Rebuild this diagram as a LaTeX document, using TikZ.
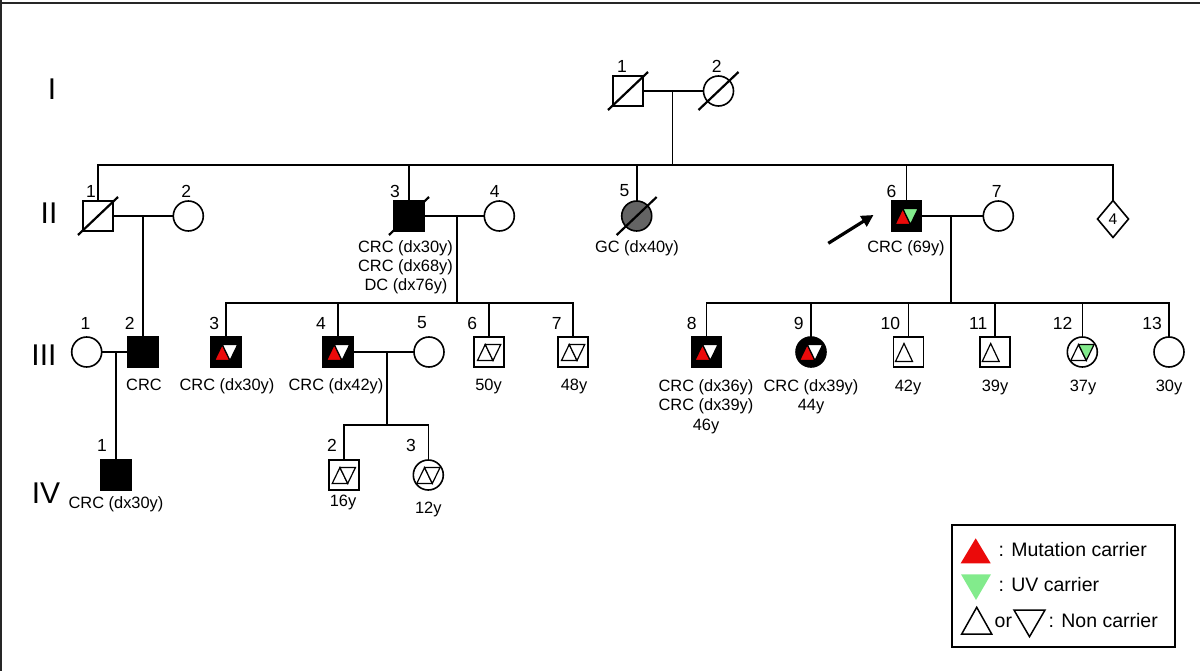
\documentclass[tikz,border=0pt]{standalone}
\usepackage{fontspec}
\setmainfont{Liberation Sans}
\usetikzlibrary{shapes.geometric,arrows.meta}
\definecolor{mutred}{RGB}{235,10,10}
\definecolor{uvgreen}{RGB}{130,235,140}
\definecolor{dgray}{RGB}{100,100,100}
\newcommand\pairtri[3]{%
  \begin{scope}[shift={(#1.center)}]
    \filldraw[fill=#2,draw=black,line width=1.2pt] (-11.5,8.5)--(4,8.5)--(-3.75,-7.5)--cycle;
    \filldraw[fill=#3,draw=black,line width=1.2pt] (-3.75,-7.5)--(11.75,-7.5)--(4,8.5)--cycle;
  \end{scope}}
\newcommand\uptri[1]{%
  \begin{scope}[shift={(#1.center)}]
    \draw[line width=1.2pt] (-13,9.5)--(4,9.5)--(-4.5,-8.5)--cycle;
  \end{scope}}
\newcommand\dead[1]{%
  \begin{scope}[shift={(#1.center)}]
    \draw[line width=2.2pt] (-20,19)--(20,-19);
  \end{scope}}
\begin{document}
\begin{tikzpicture}[x=1pt,y=-1pt,
  lw/.style={line width=1.6pt},
  sq/.style={draw,lw,rectangle,minimum size=30pt,inner sep=0pt,outer sep=0pt,fill=white},
  ci/.style={draw,lw,circle,minimum size=30pt,inner sep=0pt,outer sep=0pt,fill=white},
  aff/.style={fill=black},
  con/.style={lw},
  num/.style={font=\fontsize{17.5}{20}\selectfont,inner sep=0pt},
  lbl/.style={font=\fontsize{16.4}{19}\selectfont,inner sep=0pt,anchor=base},
  gen/.style={font=\fontsize{30}{34}\selectfont,inner sep=0pt},
  leg/.style={font=\fontsize{19.5}{22}\selectfont,inner sep=0pt,anchor=base west},
]
\useasboundingbox (0,0) rectangle (1200,671);
% frame edges
\draw[line width=2.4pt,black!85] (0,3.2) -- (1200,3.2);
\draw[line width=2.4pt,black!85] (1.2,0) -- (1.2,671);

% generation labels
\node[gen] (gI) at (52,89.5) {I};
\node[gen] (gII) at (49,213) {II};
\node[gen] (gIII) at (44,355) {III};
\node[gen] (gIV) at (46,493) {IV};

% coordinates
\coordinate (mI) at (672.5,91);
\coordinate (sII) at (672.5,165);
\coordinate (mII1) at (142.7,216);
\coordinate (mII3) at (456.7,216);
\coordinate (sIIIa) at (456.7,303);
\coordinate (mII6) at (950.7,216);
\coordinate (sIIIb) at (950.7,303);
\coordinate (mIII1) at (116,352);
\coordinate (mIII4) at (386.7,352);
\coordinate (sIV) at (386.7,425);

% Generation I
\node[sq] (I1) at (628,91) {};
\node[ci] (I2) at (718.5,91) {};
% Generation II
\node[sq] (II1) at (98,216) {};
\node[ci] (II2) at (188.3,216) {};
\node[sq,aff] (II3) at (409,216) {};
\node[ci] (II4) at (499.3,216) {};
\node[ci,fill=dgray] (II5) at (636.7,216) {};
\node[sq,aff] (II6) at (906.5,216) {};
\node[ci] (II7) at (998.3,216) {};
\node[draw,lw,diamond,minimum width=31pt,minimum height=37pt,inner sep=0pt,outer sep=0pt,font=\fontsize{15.5}{18}\selectfont] (II8) at (1113,219) {4};
% Generation III
\node[ci] (III1) at (86.7,352) {};
\node[sq,aff] (III2) at (142.7,352) {};
\node[sq,aff] (III3) at (226,352) {};
\node[sq,aff] (III4) at (338,352) {};
\node[ci] (III5) at (429,352) {};
\node[sq] (III6) at (489,352) {};
\node[sq] (III7) at (573,352) {};
\node[sq,aff] (III8) at (706.3,352) {};
\node[ci,aff] (III9) at (811,352) {};
\node[sq] (III10) at (908.5,352) {};
\node[sq] (III11) at (995.2,352) {};
\node[ci] (III12) at (1082.3,352) {};
\node[ci] (III13) at (1169,352) {};
% Generation IV
\node[sq,aff] (IV1) at (116,475) {};
\node[sq] (IV2) at (343.7,475) {};
\node[ci] (IV3) at (428.3,475) {};

% deceased
\dead{I1}\dead{I2}\dead{II1}\dead{II3}\dead{II5}

% carrier triangles
\pairtri{II6}{mutred}{uvgreen}
\pairtri{III3}{mutred}{white}
\pairtri{III4}{mutred}{white}
\pairtri{III6}{white}{white}
\pairtri{III7}{white}{white}
\pairtri{III8}{mutred}{white}
\pairtri{III9}{mutred}{white}
\pairtri{III12}{white}{uvgreen}
\pairtri{IV2}{white}{white}
\pairtri{IV3}{white}{white}
\uptri{III10}
\uptri{III11}

% connectors
\draw[con] (I1.east) -- (I2.west);
\draw[con] (mI) -- (sII);
\draw[con] (II1.north) |- (sII) -| (II8.north);
\foreach \n in {II3,II5,II6} \draw[con] (\n.north) -- (\n.north |- sII);
\draw[con] (II1.east) -- (II2.west);
\draw[con] (mII1) -- (III2.north);
\draw[con] (II3.east) -- (II4.west);
\draw[con] (mII3) -- (sIIIa);
\draw[con] (III3.north) |- (sIIIa) -| (III7.north);
\foreach \n in {III4,III6} \draw[con] (\n.north) -- (\n.north |- sIIIa);
\draw[con] (II6.east) -- (II7.west);
\draw[con] (mII6) -- (sIIIb);
\draw[con] (III8.north) |- (sIIIb) -| (III13.north);
\foreach \n in {III9,III10,III11,III12} \draw[con] (\n.north) -- (\n.north |- sIIIb);
\draw[con] (III1.east) -- (III2.west);
\draw[con] (mIII1) -- (IV1.north);
\draw[con] (III4.east) -- (III5.west);
\draw[con] (mIII4) -- (sIV);
\draw[con] (IV2.north) |- (sIV) -| (IV3.north);

% proband arrow
\coordinate (arrS) at (828.3,243.3);
\coordinate (arrE) at (873.5,215);
\draw[line width=3.2pt,-{Triangle[length=12pt,width=12pt]}] (arrS) -- (arrE);

% individual numbers
\node[num] (nI1) at (622,66) {1};
\node[num] (nI2) at (716.7,66) {2};
\node[num] (nII1) at (91,191) {1};
\node[num] (nII2) at (186.3,191) {2};
\node[num] (nII3) at (395,191) {3};
\node[num] (nII4) at (494.7,191) {4};
\node[num] (nII5) at (624.5,191) {5};
\node[num] (nII6) at (891.5,191) {6};
\node[num] (nII7) at (996.7,191) {7};
\node[num] (nIII1) at (85.5,323) {1};
\node[num] (nIII2) at (129.7,323) {2};
\node[num] (nIII3) at (214.3,323) {3};
\node[num] (nIII4) at (321,323) {4};
\node[num] (nIII5) at (422,323) {5};
\node[num] (nIII6) at (472.3,323) {6};
\node[num] (nIII7) at (556.7,323) {7};
\node[num] (nIII8) at (691.7,323) {8};
\node[num] (nIII9) at (798.7,323) {9};
\node[num] (nIII10) at (890.3,323) {10};
\node[num] (nIII11) at (978.3,323) {11};
\node[num] (nIII12) at (1062.7,323) {12};
\node[num] (nIII13) at (1152,323) {13};
\node[num] (nIV1) at (102,445) {1};
\node[num] (nIV2) at (332,445) {2};
\node[num] (nIV3) at (411,445) {3};

% phenotype / age labels
\node[lbl] (tII3a) at (405.5,252.5) {CRC (dx30y)};
\node[lbl] (tII3b) at (405.5,271.5) {CRC (dx68y)};
\node[lbl] (tII3c) at (406,290.5) {DC (dx76y)};
\node[lbl] (tII5) at (637,252.5) {GC (dx40y)};
\node[lbl] (tII6) at (906,252.5) {CRC (69y)};
\node[lbl] (tIII2) at (144,390) {CRC};
\node[lbl] (tIII3) at (227,390) {CRC (dx30y)};
\node[lbl] (tIII4) at (336,390) {CRC (dx42y)};
\node[lbl] (tIII6) at (488.5,390) {50y};
\node[lbl] (tIII7) at (574,390) {48y};
\node[lbl] (tIII8a) at (706,391) {CRC (dx36y)};
\node[lbl] (tIII8b) at (706,410.5) {CRC (dx39y)};
\node[lbl] (tIII8c) at (706,430) {46y};
\node[lbl] (tIII9a) at (811,391) {CRC (dx39y)};
\node[lbl] (tIII9b) at (811,410.5) {44y};
\node[lbl] (tIII10) at (908,391) {42y};
\node[lbl] (tIII11) at (995,391) {39y};
\node[lbl] (tIII12) at (1083,391) {37y};
\node[lbl] (tIII13) at (1169,391) {30y};
\node[lbl] (tIV1) at (116,508) {CRC (dx30y)};
\node[lbl] (tIV2) at (343,506.5) {16y};
\node[lbl] (tIV3) at (428.3,513) {12y};

% legend
\node[draw,line width=1.5pt,minimum width=223.3pt,minimum height=121.7pt,inner sep=0pt,outer sep=0pt] (legend) at (1063.4,585.9) {};
\fill[mutred] (960.7,563.3) -- (990.7,563.3) -- (975.7,538.3) -- cycle;
\fill[uvgreen] (961,574.3) -- (991,574.3) -- (976,600) -- cycle;
\draw[line width=1.5pt] (961.7,634) -- (991.7,634) -- (976.7,607.3) -- cycle;
\draw[line width=1.5pt] (1014,610) -- (1045,610) -- (1029.5,636.7) -- cycle;
\node[leg] (l1) at (998.5,556.7) {: Mutation carrier};
\node[leg] (l2) at (998.5,591.7) {: UV carrier};
\node[leg] (l3) at (994.5,627.3) {or};
\node[leg] (l4) at (1048.5,627.3) {: Non carrier};
\end{tikzpicture}
\end{document}
